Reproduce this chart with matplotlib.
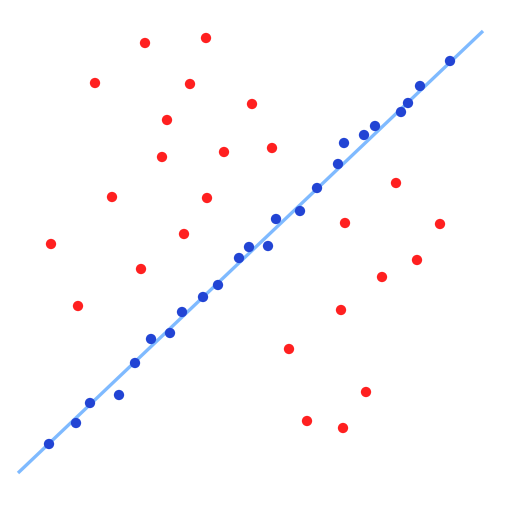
import matplotlib
matplotlib.use("Agg")
import matplotlib.pyplot as plt

# fitted line end points
line_x = [18, 483]
line_y = [38, 480]

# points close to the line
blue_x = [49, 76, 90, 119, 135, 151, 170, 182, 203, 218, 239, 249, 268, 276,
          300, 317, 338, 344, 364, 375, 401, 408, 420, 450]
blue_y = [67, 88, 108, 116, 148, 172, 178, 199, 214, 226, 253, 264, 265, 292,
          300, 323, 347, 368, 376, 385, 399, 408, 425, 450]

# outliers
red_x = [145, 206, 95, 190, 252, 167, 162, 224, 272, 112, 207, 396, 51, 184,
         345, 440, 141, 417, 382, 78, 341, 289, 366, 307, 343]
red_y = [468, 473, 428, 427, 407, 391, 354, 359, 363, 314, 313, 328, 267, 277,
         288, 287, 242, 251, 234, 205, 201, 162, 119, 90, 83]

fig = plt.figure(figsize=(5.1, 5.1), dpi=100)
ax = fig.add_axes([0, 0, 1, 1])
ax.plot(line_x, line_y, color="#7fbaff", linewidth=2.4, solid_capstyle="butt", zorder=1)
ax.scatter(blue_x, blue_y, s=55, color="#2244d4", edgecolors="none", zorder=2)
ax.scatter(red_x, red_y, s=55, color="#ff2020", edgecolors="none", zorder=2)
ax.set_xlim(0, 510)
ax.set_ylim(2, 512)
ax.axis("off")
fig.savefig("out.png", dpi=100)
